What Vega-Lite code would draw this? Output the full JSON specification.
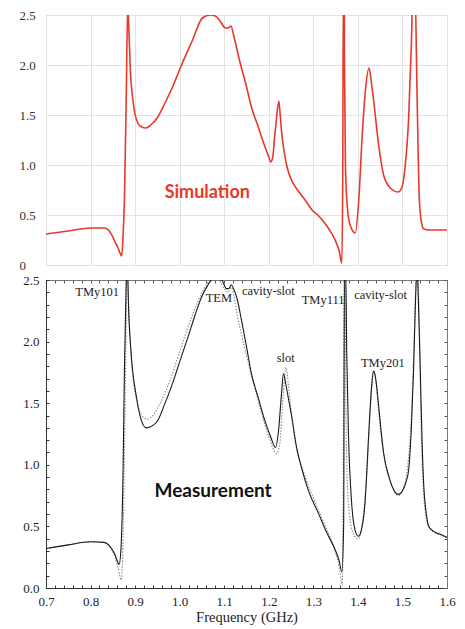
{
  "$schema": "https://vega.github.io/schema/vega-lite/v6.json",
  "padding": {"left": 18, "top": 8, "right": 12, "bottom": 4},
  "spacing": 15,
  "bounds": "flush",
  "config": {
    "axis": {"labelFont": "Liberation Serif", "labelFontSize": 13, "labelColor": "#222", "titleFont": "Liberation Serif", "titleFontSize": 14.5, "titleFontWeight": "normal", "titleColor": "#222", "labelFlush": false},
    "view": {"stroke": "#999"}
  },
  "datasets": {
    "sim": [
      {"f":0.70,"v":0.31},{"f":0.75,"v":0.34},{"f":0.801,"v":0.37},{"f":0.831,"v":0.37},{"f":0.842,"v":0.34},{"f":0.85,"v":0.28},{"f":0.856,"v":0.22},{"f":0.861,"v":0.18},{"f":0.866,"v":0.12},{"f":0.870,"v":0.09},{"f":0.873,"v":0.30},{"f":0.876,"v":0.65},{"f":0.880,"v":1.65},{"f":0.8835,"v":2.6},{"f":0.886,"v":2.35},{"f":0.889,"v":1.98},{"f":0.895,"v":1.65},{"f":0.906,"v":1.42},{"f":0.915,"v":1.38},{"f":0.924,"v":1.37},{"f":0.935,"v":1.40},{"f":0.951,"v":1.48},{"f":0.967,"v":1.62},{"f":0.984,"v":1.78},{"f":1.006,"v":2.02},{"f":1.029,"v":2.25},{"f":1.051,"v":2.47},{"f":1.069,"v":2.50},{"f":1.08,"v":2.49},{"f":1.089,"v":2.45},{"f":1.103,"v":2.37},{"f":1.109,"v":2.37},{"f":1.115,"v":2.39},{"f":1.122,"v":2.28},{"f":1.133,"v":2.07},{"f":1.149,"v":1.80},{"f":1.163,"v":1.55},{"f":1.175,"v":1.40},{"f":1.186,"v":1.25},{"f":1.2,"v":1.08},{"f":1.2045,"v":1.03},{"f":1.209,"v":1.08},{"f":1.213,"v":1.28},{"f":1.217,"v":1.45},{"f":1.2225,"v":1.64},{"f":1.226,"v":1.48},{"f":1.229,"v":1.32},{"f":1.235,"v":1.12},{"f":1.241,"v":0.98},{"f":1.253,"v":0.83},{"f":1.268,"v":0.73},{"f":1.283,"v":0.64},{"f":1.297,"v":0.55},{"f":1.31,"v":0.50},{"f":1.32,"v":0.45},{"f":1.335,"v":0.36},{"f":1.349,"v":0.25},{"f":1.358,"v":0.14},{"f":1.364,"v":0.02},{"f":1.366,"v":0.9},{"f":1.3675,"v":2.8},{"f":1.369,"v":2.8},{"f":1.370,"v":2.0},{"f":1.372,"v":1.0},{"f":1.378,"v":0.5},{"f":1.386,"v":0.36},{"f":1.394,"v":0.32},{"f":1.402,"v":0.65},{"f":1.410,"v":1.32},{"f":1.417,"v":1.75},{"f":1.425,"v":1.97},{"f":1.431,"v":1.80},{"f":1.436,"v":1.62},{"f":1.446,"v":1.22},{"f":1.459,"v":0.88},{"f":1.475,"v":0.76},{"f":1.490,"v":0.73},{"f":1.499,"v":0.78},{"f":1.506,"v":0.98},{"f":1.514,"v":1.48},{"f":1.520,"v":2.2},{"f":1.524,"v":2.8},{"f":1.528,"v":2.8},{"f":1.533,"v":1.65},{"f":1.538,"v":0.65},{"f":1.543,"v":0.42},{"f":1.548,"v":0.36},{"f":1.56,"v":0.35},{"f":1.60,"v":0.35}
    ],
    "meas": [
      {"f":0.70,"v":0.32},{"f":0.75,"v":0.35},{"f":0.80,"v":0.375},{"f":0.83,"v":0.37},{"f":0.845,"v":0.33},{"f":0.855,"v":0.27},{"f":0.861,"v":0.21},{"f":0.864,"v":0.19},{"f":0.868,"v":0.30},{"f":0.873,"v":0.96},{"f":0.876,"v":1.77},{"f":0.879,"v":2.3},{"f":0.881,"v":2.6},{"f":0.883,"v":2.6},{"f":0.885,"v":2.31},{"f":0.891,"v":1.91},{"f":0.903,"v":1.55},{"f":0.914,"v":1.36},{"f":0.925,"v":1.30},{"f":0.94,"v":1.32},{"f":0.951,"v":1.36},{"f":0.965,"v":1.48},{"f":0.981,"v":1.63},{"f":1.004,"v":1.88},{"f":1.019,"v":2.04},{"f":1.035,"v":2.22},{"f":1.049,"v":2.36},{"f":1.062,"v":2.45},{"f":1.075,"v":2.51},{"f":1.094,"v":2.50},{"f":1.105,"v":2.43},{"f":1.110,"v":2.43},{"f":1.116,"v":2.46},{"f":1.122,"v":2.42},{"f":1.128,"v":2.36},{"f":1.139,"v":2.17},{"f":1.15,"v":1.96},{"f":1.161,"v":1.74},{"f":1.176,"v":1.55},{"f":1.191,"v":1.36},{"f":1.205,"v":1.22},{"f":1.215,"v":1.14},{"f":1.222,"v":1.28},{"f":1.228,"v":1.55},{"f":1.233,"v":1.74},{"f":1.238,"v":1.66},{"f":1.244,"v":1.54},{"f":1.251,"v":1.40},{"f":1.262,"v":1.15},{"f":1.274,"v":0.97},{"f":1.29,"v":0.78},{"f":1.311,"v":0.61},{"f":1.33,"v":0.45},{"f":1.349,"v":0.31},{"f":1.358,"v":0.22},{"f":1.364,"v":0.13},{"f":1.368,"v":0.5},{"f":1.370,"v":2.6},{"f":1.3725,"v":2.6},{"f":1.375,"v":1.9},{"f":1.379,"v":1.23},{"f":1.386,"v":0.69},{"f":1.393,"v":0.48},{"f":1.401,"v":0.42},{"f":1.409,"v":0.49},{"f":1.416,"v":0.69},{"f":1.424,"v":1.23},{"f":1.430,"v":1.60},{"f":1.435,"v":1.76},{"f":1.440,"v":1.70},{"f":1.446,"v":1.50},{"f":1.452,"v":1.28},{"f":1.458,"v":1.09},{"f":1.47,"v":0.90},{"f":1.48,"v":0.80},{"f":1.491,"v":0.76},{"f":1.50,"v":0.79},{"f":1.508,"v":0.86},{"f":1.514,"v":0.96},{"f":1.520,"v":1.30},{"f":1.525,"v":1.77},{"f":1.529,"v":2.3},{"f":1.533,"v":2.6},{"f":1.536,"v":2.3},{"f":1.540,"v":1.77},{"f":1.544,"v":1.20},{"f":1.548,"v":0.82},{"f":1.553,"v":0.62},{"f":1.559,"v":0.50},{"f":1.57,"v":0.46},{"f":1.589,"v":0.43},{"f":1.60,"v":0.41}
    ],
    "meas2": [
      {"f":0.70,"v":0.32},{"f":0.75,"v":0.35},{"f":0.80,"v":0.375},{"f":0.83,"v":0.37},{"f":0.845,"v":0.33},{"f":0.855,"v":0.25},{"f":0.862,"v":0.16},{"f":0.867,"v":0.08},{"f":0.869,"v":0.065},{"f":0.872,"v":0.25},{"f":0.876,"v":1.1},{"f":0.879,"v":1.9},{"f":0.882,"v":2.6},{"f":0.885,"v":2.35},{"f":0.889,"v":2.0},{"f":0.895,"v":1.72},{"f":0.905,"v":1.5},{"f":0.915,"v":1.40},{"f":0.927,"v":1.37},{"f":0.94,"v":1.40},{"f":0.96,"v":1.53},{"f":0.98,"v":1.70},{"f":1.00,"v":1.92},{"f":1.02,"v":2.13},{"f":1.04,"v":2.32},{"f":1.06,"v":2.46},{"f":1.075,"v":2.51},{"f":1.09,"v":2.49},{"f":1.10,"v":2.43},{"f":1.108,"v":2.40},{"f":1.116,"v":2.44},{"f":1.122,"v":2.37},{"f":1.13,"v":2.20},{"f":1.14,"v":2.04},{"f":1.16,"v":1.74},{"f":1.18,"v":1.47},{"f":1.20,"v":1.23},{"f":1.218,"v":1.09},{"f":1.225,"v":1.18},{"f":1.232,"v":1.55},{"f":1.239,"v":1.79},{"f":1.244,"v":1.65},{"f":1.25,"v":1.45},{"f":1.26,"v":1.18},{"f":1.28,"v":0.92},{"f":1.30,"v":0.73},{"f":1.32,"v":0.56},{"f":1.34,"v":0.39},{"f":1.355,"v":0.22},{"f":1.362,"v":0.08},{"f":1.365,"v":0.02},{"f":1.367,"v":0.8},{"f":1.369,"v":2.6},{"f":1.371,"v":2.6},{"f":1.373,"v":1.5},{"f":1.377,"v":0.8},{"f":1.385,"v":0.5},{"f":1.395,"v":0.41},{"f":1.401,"v":0.40},{"f":1.41,"v":0.53},{"f":1.42,"v":0.93},{"f":1.428,"v":1.45},{"f":1.436,"v":1.76},{"f":1.443,"v":1.58},{"f":1.45,"v":1.30},{"f":1.46,"v":1.04},{"f":1.475,"v":0.84},{"f":1.491,"v":0.75},{"f":1.50,"v":0.79},{"f":1.51,"v":0.94},{"f":1.52,"v":1.40},{"f":1.527,"v":2.1},{"f":1.532,"v":2.6},{"f":1.537,"v":2.3},{"f":1.542,"v":1.3},{"f":1.548,"v":0.74},{"f":1.555,"v":0.54},{"f":1.565,"v":0.47},{"f":1.58,"v":0.44},{"f":1.60,"v":0.41}
    ],
    "notes": [
      {"f":0.815,"v":2.40,"label":"TMy101"},
      {"f":1.088,"v":2.35,"label":"TEM"},
      {"f":1.199,"v":2.41,"label":"cavity-slot"},
      {"f":1.322,"v":2.34,"label":"TMy111"},
      {"f":1.451,"v":2.38,"label":"cavity-slot"},
      {"f":1.238,"v":1.87,"label":"slot"},
      {"f":1.456,"v":1.83,"label":"TMy201"}
    ]
  },
  "vconcat": [
    {
      "width": 401,
      "height": 250,
      "view": {"stroke": "#a0a0a0"},
      "layer": [
        {
          "data": {"name": "sim"},
          "mark": {"type": "line", "color": "#e8382c", "strokeWidth": 1.6, "clip": true, "interpolate": "monotone"},
          "encoding": {
            "x": {"field": "f", "type": "quantitative", "scale": {"domain": [0.7, 1.6], "nice": false},
                  "axis": {"values": [0.7,0.8,0.9,1.0,1.1,1.2,1.3,1.4,1.5,1.6], "grid": true, "gridColor": "#e2e2e2", "labels": false, "ticks": false, "domain": false, "title": null}},
            "y": {"field": "v", "type": "quantitative", "scale": {"domain": [0, 2.5], "nice": false},
                  "axis": {"values": [0,0.5,1,1.5,2,2.5], "labelExpr": "datum.value == 0 ? '0' : format(datum.value, '.1f')", "grid": true, "gridColor": "#e2e2e2", "ticks": false, "domain": false, "labelAlign": "left", "labelPadding": 27, "labelFont": "Liberation Serif", "labelFontSize": 13, "labelColor": "#333", "title": null}}
          }
        },
        {
          "data": {"values": [{"f": 1.062, "v": 0.72, "label": "Simulation"}]},
          "mark": {"type": "text", "font": "Lato", "fontWeight": "bold", "fontSize": 18, "color": "#e8382c"},
          "encoding": {
            "x": {"field": "f", "type": "quantitative"},
            "y": {"field": "v", "type": "quantitative"},
            "text": {"field": "label"}
          }
        }
      ]
    },
    {
      "width": 401,
      "height": 308,
      "view": {"stroke": "#777"},
      "resolve": {"axis": {"x": "independent", "y": "independent"}},
      "layer": [
        {
          "data": {"name": "meas2"},
          "mark": {"type": "line", "color": "#8a8a8a", "strokeWidth": 1.1, "strokeDash": [1.5, 1.5], "clip": true, "interpolate": "monotone"},
          "encoding": {
            "x": {"field": "f", "type": "quantitative", "scale": {"domain": [0.7, 1.6], "nice": false},
                  "axis": {"orient": "top", "values": [0.7,0.72,0.74,0.76,0.78,0.8,0.82,0.84,0.86,0.88,0.9,0.92,0.94,0.96,0.98,1.0,1.02,1.04,1.06,1.08,1.1,1.12,1.14,1.16,1.18,1.2,1.22,1.24,1.26,1.28,1.3,1.32,1.34,1.36,1.38,1.4,1.42,1.44,1.46,1.48,1.5,1.52,1.54,1.56,1.58,1.6], "labels": false, "tickSize": -3, "tickColor": "#555", "domainColor": "#777", "grid": false, "title": null}},
            "y": {"field": "v", "type": "quantitative", "scale": {"domain": [0, 2.5], "nice": false},
                  "axis": {"orient": "right", "values": [0,0.1,0.2,0.3,0.4,0.5,0.6,0.7,0.8,0.9,1.0,1.1,1.2,1.3,1.4,1.5,1.6,1.7,1.8,1.9,2.0,2.1,2.2,2.3,2.4,2.5], "labels": false, "tickSize": -3, "tickColor": "#555", "domainColor": "#777", "grid": false, "title": null}}
          }
        },
        {
          "data": {"name": "meas"},
          "mark": {"type": "line", "color": "#1a1a1a", "strokeWidth": 1.1, "clip": true, "interpolate": "monotone"},
          "encoding": {
            "x": {"field": "f", "type": "quantitative", "scale": {"domain": [0.7, 1.6], "nice": false},
                  "axis": {"orient": "bottom", "values": [0.7,0.72,0.74,0.76,0.78,0.8,0.82,0.84,0.86,0.88,0.9,0.92,0.94,0.96,0.98,1.0,1.02,1.04,1.06,1.08,1.1,1.12,1.14,1.16,1.18,1.2,1.22,1.24,1.26,1.28,1.3,1.32,1.34,1.36,1.38,1.4,1.42,1.44,1.46,1.48,1.5,1.52,1.54,1.56,1.58,1.6], "labelExpr": "abs(datum.value*10 - round(datum.value*10)) < 0.001 ? format(datum.value, '.1f') : ''", "tickSize": -3, "labelPadding": 10, "labelFont": "Liberation Serif", "labelFontSize": 13, "tickColor": "#333", "domainColor": "#333", "grid": false, "labelOverlap": false, "title": "Frequency (GHz)", "titleFont": "Liberation Serif", "titlePadding": 2}},
            "y": {"field": "v", "type": "quantitative", "scale": {"domain": [0, 2.5], "nice": false},
                  "axis": {"orient": "left", "values": [0,0.1,0.2,0.3,0.4,0.5,0.6,0.7,0.8,0.9,1.0,1.1,1.2,1.3,1.4,1.5,1.6,1.7,1.8,1.9,2.0,2.1,2.2,2.3,2.4,2.5], "labelExpr": "abs(datum.value*2 - round(datum.value*2)) < 0.001 ? format(datum.value, '.1f') : ''", "tickSize": -3, "labelPadding": 10, "labelFont": "Liberation Serif", "labelFontSize": 13, "tickColor": "#333", "domainColor": "#333", "grid": false, "labelOverlap": false, "title": null}}
          }
        },
        {
          "data": {"name": "notes"},
          "mark": {"type": "text", "font": "Liberation Serif", "fontSize": 12.5, "color": "#222"},
          "encoding": {
            "x": {"field": "f", "type": "quantitative", "axis": null},
            "y": {"field": "v", "type": "quantitative", "axis": null},
            "text": {"field": "label"}
          }
        },
        {
          "data": {"values": [{"f": 1.075, "v": 0.79, "label": "Measurement"}]},
          "mark": {"type": "text", "font": "Lato", "fontWeight": "bold", "fontSize": 19, "color": "#111"},
          "encoding": {
            "x": {"field": "f", "type": "quantitative", "axis": null},
            "y": {"field": "v", "type": "quantitative", "axis": null},
            "text": {"field": "label"}
          }
        }
      ]
    }
  ]
}
